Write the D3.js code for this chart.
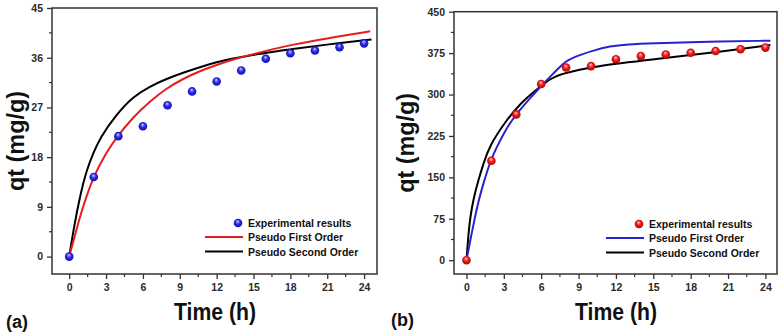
<!DOCTYPE html>
<html>
<head>
<meta charset="utf-8">
<script src="https://cdn.jsdelivr.net/npm/d3@7"></script>
<style>
  body { margin: 0; background: #fff; }
  svg { display: block; }
  text { font-family: 'Liberation Sans', Arial, sans-serif; font-weight: bold; }
</style>
</head>
<body>
<div id="chart"></div>
<script>
// ---- data ----
let timeHours = [0, 2, 4, 6, 8, 10, 12, 14, 16, 18, 20, 22, 24]

// panel (a)
let expA = [0, 14.4, 21.8, 23.6, 27.4, 29.9, 31.7, 33.7, 35.8, 36.8, 37.3, 37.9, 38.6]
let pfoTimeA = [0, 0.6, 1.14, 1.96, 3.05, 3.72, 5.21, 6.57, 7.93, 9.28, 10.64, 12.0, 13.36, 14.7, 16.3, 18.2, 21.0, 24.5]
let pfoA = [0, 5.0, 9.2, 14.5, 18.9, 21.2, 25.3, 28.1, 30.5, 32.2, 33.6, 34.7, 35.7, 36.5, 37.4, 38.4, 39.5, 40.8]
let psoTimeA = [0, 0.4, 0.87, 1.42, 1.96, 2.5, 3.86, 5.21, 6.57, 7.93, 9.28, 10.64, 12, 13.36, 14.7, 16.3, 18.2, 21, 24.6]
let psoA = [0, 5.5, 10.9, 15.7, 18.7, 21.5, 25.8, 29.0, 30.8, 32.2, 33.3, 34.3, 35.2, 35.9, 36.4, 37.0, 37.6, 38.4, 39.3]

// panel (b)
let expB = [0, 180, 264, 319, 349, 351.5, 364, 369.6, 372.6, 375.6, 378.7, 382, 385]
let pfoTimeB = [0, 0.43, 0.7, 1.0, 1.37, 1.9, 2.3, 3.25, 4.05, 5.1, 6.05, 6.7, 7.5, 7.93, 8.5, 10.2, 11.5, 12.9, 15, 18.2, 24.4]
let pfoB = [0, 50, 80, 110, 140, 178, 199, 241, 266, 293, 317, 332, 350, 359, 367, 380, 387.5, 391, 393, 395, 397.6]
let psoTimeB = [0, 0.15, 0.3, 0.6, 0.96, 1.37, 1.9, 3.1, 4.3, 5.9, 6.7, 7.5, 10.2, 15.6, 20.9, 24.4]
let psoB = [0, 45, 78, 115, 145, 176, 209, 250, 284, 314, 328, 337, 351.5, 365, 379, 389.5]

let yTicksA = [0, 9, 18, 27, 36, 45]
let yTicksB = [0, 75, 150, 225, 300, 375, 450]
let xTicks = [0, 3, 6, 9, 12, 15, 18, 21, 24]
let legendLabels = ['Experimental results', 'Pseudo First Order', 'Pseudo Second Order']

let width = 783
let height = 334

let svg = d3
  .select('#chart')
  .append('svg')
  .attr('width', width)
  .attr('height', height)

let defs = svg.append('defs')

// shaded "ball" markers like the original plot
function sphere(id, light, mid, dark) {
  let g = defs
    .append('radialGradient')
    .attr('id', id)
    .attr('cx', '0.5')
    .attr('cy', '0.5')
    .attr('r', '0.6')
    .attr('fx', '0.45')
    .attr('fy', '0.3')
  g.append('stop').attr('offset', '0').attr('stop-color', light)
  g.append('stop').attr('offset', '0.45').attr('stop-color', mid)
  g.append('stop').attr('offset', '1').attr('stop-color', dark)
}
sphere('ballBlue', '#c8c8ff', '#2a2ae6', '#0a0a9a')
sphere('ballRed', '#ffc8c8', '#ee1a1a', '#a00000')

let panels = [
  {
    left: 52, right: 377, top: 8, bottom: 274,
    xDomain: [-1.4, 25.05], yDomain: [-3.15, 45],
    yTicks: yTicksA, yStep: 9,
    exp: expA, ball: 'url(#ballBlue)',
    pfoT: pfoTimeA, pfo: pfoA, pfoColor: '#e81c1c',
    psoT: psoTimeA, pso: psoA,
    tag: '(a)', tagX: 6, tagY: 328,
    yTitleX: 24, xTitleX: 215,
    legX: 205, legY: 223
  },
  {
    left: 454, right: 777, top: 11.7, bottom: 274,
    xDomain: [-1, 24.93], yDomain: [-25, 450],
    yTicks: yTicksB, yStep: 75,
    exp: expB, ball: 'url(#ballRed)',
    pfoT: pfoTimeB, pfo: pfoB, pfoColor: '#2a22cc',
    psoT: psoTimeB, pso: psoB,
    tag: '(b)', tagX: 391, tagY: 326,
    yTitleX: 414, xTitleX: 616,
    legX: 606, legY: 224
  }
]

panels.forEach(p => {
  let x = d3.scaleLinear().domain(p.xDomain).range([p.left, p.right])
  let y = d3.scaleLinear().domain(p.yDomain).range([p.bottom, p.top])
  let g = svg.append('g')

  // minor ticks (half steps)
  let xMinor = d3.range(1.5, 25, 3)
  let yMinor = p.yTicks.slice(0, -1).map(v => v + p.yStep / 2)

  g.selectAll('.xminor')
    .data(xMinor)
    .enter()
    .append('line')
    .attr('x1', d => x(d))
    .attr('x2', d => x(d))
    .attr('y1', p.bottom)
    .attr('y2', p.bottom + 3)
    .attr('stroke', '#333')
    .attr('stroke-width', 1.2)

  g.selectAll('.yminor')
    .data(yMinor)
    .enter()
    .append('line')
    .attr('y1', d => y(d))
    .attr('y2', d => y(d))
    .attr('x1', p.left)
    .attr('x2', p.left - 3)
    .attr('stroke', '#333')
    .attr('stroke-width', 1.2)

  // major axes
  let xAxis = g
    .append('g')
    .attr('transform', `translate(0,${p.bottom})`)
    .call(d3.axisBottom(x).tickValues(xTicks).tickSize(5).tickPadding(5))
  let yAxis = g
    .append('g')
    .attr('transform', `translate(${p.left},0)`)
    .call(d3.axisLeft(y).tickValues(p.yTicks).tickSize(5).tickPadding(4))

  ;[xAxis, yAxis].forEach(a => {
    a.select('.domain').remove()
    a.selectAll('.tick line').attr('stroke', '#333').attr('stroke-width', 1.3)
    a.selectAll('.tick text')
      .attr('fill', '#2a2a2a')
      .style('font-size', '10.5px')
      .style('font-weight', 'bold')
      .style('font-family', "'Liberation Sans', Arial, sans-serif")
  })

  // frame
  g.append('rect')
    .attr('x', p.left)
    .attr('y', p.top)
    .attr('width', p.right - p.left)
    .attr('height', p.bottom - p.top)
    .attr('fill', 'none')
    .attr('stroke', '#333')
    .attr('stroke-width', 1.5)

  // basis curve smooths out the small reading errors
  let line = d3
    .line()
    .x(d => x(d[0]))
    .y(d => y(d[1]))
    .curve(d3.curveBasis)

  g.append('path')
    .datum(d3.zip(p.psoT, p.pso))
    .attr('d', line)
    .attr('fill', 'none')
    .attr('stroke', '#000')
    .attr('stroke-width', 2)

  g.append('path')
    .datum(d3.zip(p.pfoT, p.pfo))
    .attr('d', line)
    .attr('fill', 'none')
    .attr('stroke', p.pfoColor)
    .attr('stroke-width', 2)

  g.selectAll('.ball')
    .data(d3.zip(timeHours, p.exp))
    .enter()
    .append('circle')
    .attr('cx', d => x(d[0]))
    .attr('cy', d => y(d[1]))
    .attr('r', 4.3)
    .attr('fill', p.ball)

  // legend
  let leg = g.append('g')
  leg.append('circle')
    .attr('cx', p.legX + 33)
    .attr('cy', p.legY)
    .attr('r', 4.3)
    .attr('fill', p.ball)
  leg.append('line')
    .attr('x1', p.legX).attr('x2', p.legX + 38)
    .attr('y1', p.legY + 14).attr('y2', p.legY + 14)
    .attr('stroke', p.pfoColor).attr('stroke-width', 2.2)
  leg.append('line')
    .attr('x1', p.legX).attr('x2', p.legX + 38)
    .attr('y1', p.legY + 28.5).attr('y2', p.legY + 28.5)
    .attr('stroke', '#000').attr('stroke-width', 2.2)
  leg.selectAll('.lab')
    .data(legendLabels)
    .enter()
    .append('text')
    .attr('x', p.legX + 43)
    .attr('y', (d, i) => p.legY + i * 14.3 + 4)
    .attr('font-size', 10.5)
    .attr('fill', '#111')
    .text(d => d)

  // titles
  g.append('text')
    .attr('x', p.xTitleX)
    .attr('y', 320)
    .attr('text-anchor', 'middle')
    .attr('font-size', 24)
    .attr('textLength', 82)
    .attr('lengthAdjust', 'spacingAndGlyphs')
    .attr('fill', '#111')
    .text('Time (h)')

  g.append('text')
    .attr('transform', `translate(${p.yTitleX},${(p.top + p.bottom) / 2}) rotate(-90)`)
    .attr('text-anchor', 'middle')
    .attr('font-size', 23)
    .attr('textLength', 100)
    .attr('lengthAdjust', 'spacingAndGlyphs')
    .attr('fill', '#111')
    .text('qt (mg/g)')

  g.append('text')
    .attr('x', p.tagX)
    .attr('y', p.tagY)
    .attr('font-size', 18)
    .attr('fill', '#111')
    .text(p.tag)
})
</script>
</body>
</html>
